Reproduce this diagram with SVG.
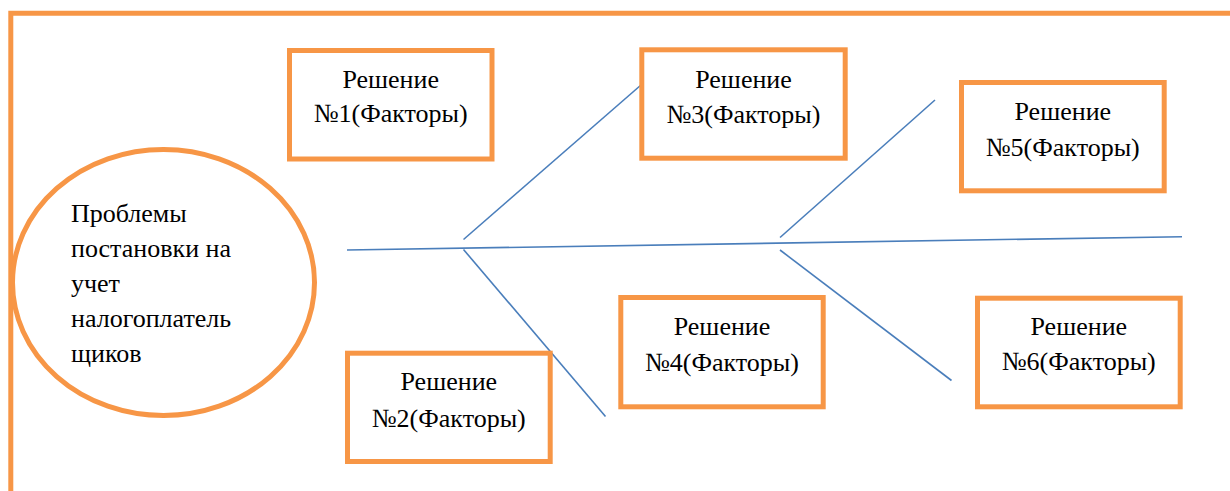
<svg xmlns="http://www.w3.org/2000/svg" width="1230" height="491" viewBox="0 0 1230 491">
<style>
.box{fill:#fff;stroke:#F79646;stroke-width:5}
.frame{fill:none;stroke:#F79646;stroke-width:5}
.t{font-family:"Liberation Serif","Times New Roman",serif;font-size:26px;fill:#000}
.c{text-anchor:middle}
.ln{stroke:#4A7EBB;stroke-width:1.6;fill:none}
</style>
<rect width="1230" height="491" fill="#fff"/>
<path class="frame" d="M10.8,491 V13.3 H1230"/>
<g id="connectors">
<line class="ln" x1="347" y1="250" x2="1182" y2="236.7"/>
<line class="ln" x1="463.5" y1="239.5" x2="641" y2="85"/>
<line class="ln" x1="463.5" y1="249.5" x2="605.5" y2="416.5"/>
<line class="ln" x1="780" y1="237.5" x2="935" y2="100"/>
<line class="ln" x1="780" y1="250" x2="951.5" y2="380.5"/>
</g>
<g id="problem">
<ellipse class="frame" cx="163.5" cy="282.5" rx="151" ry="133"/>
<text class="t" x="71" y="222">Проблемы</text>
<text class="t" x="71" y="257">постановки на</text>
<text class="t" x="71" y="292">учет</text>
<text class="t" x="71" y="326.5">налогоплатель</text>
<text class="t" x="71" y="361.5">щиков</text>
</g>
<g id="r1">
<rect class="box" x="289.5" y="50.5" width="202.5" height="108.5"/>
<text class="t c" x="390.7" y="87.5">Решение</text>
<text class="t c" x="390.7" y="122">№1(Факторы)</text>
</g>
<g id="r3">
<rect class="box" x="641.8" y="49.8" width="203.4" height="108.4"/>
<text class="t c" x="743.5" y="88.3">Решение</text>
<text class="t c" x="743.5" y="122.7">№3(Факторы)</text>
</g>
<g id="r5">
<rect class="box" x="961.5" y="82.5" width="202.7" height="108.3"/>
<text class="t c" x="1062.8" y="120">Решение</text>
<text class="t c" x="1062.8" y="156">№5(Факторы)</text>
</g>
<g id="r2">
<rect class="box" x="347.5" y="353.2" width="202.7" height="108.3"/>
<text class="t c" x="448.8" y="390">Решение</text>
<text class="t c" x="448.8" y="426.5">№2(Факторы)</text>
</g>
<g id="r4">
<rect class="box" x="620.8" y="297.5" width="202.4" height="109.3"/>
<text class="t c" x="722" y="335">Решение</text>
<text class="t c" x="722" y="370.7">№4(Факторы)</text>
</g>
<g id="r6">
<rect class="box" x="977.5" y="298.2" width="202.7" height="108.6"/>
<text class="t c" x="1078.8" y="335">Решение</text>
<text class="t c" x="1078.8" y="370">№6(Факторы)</text>
</g>
</svg>
